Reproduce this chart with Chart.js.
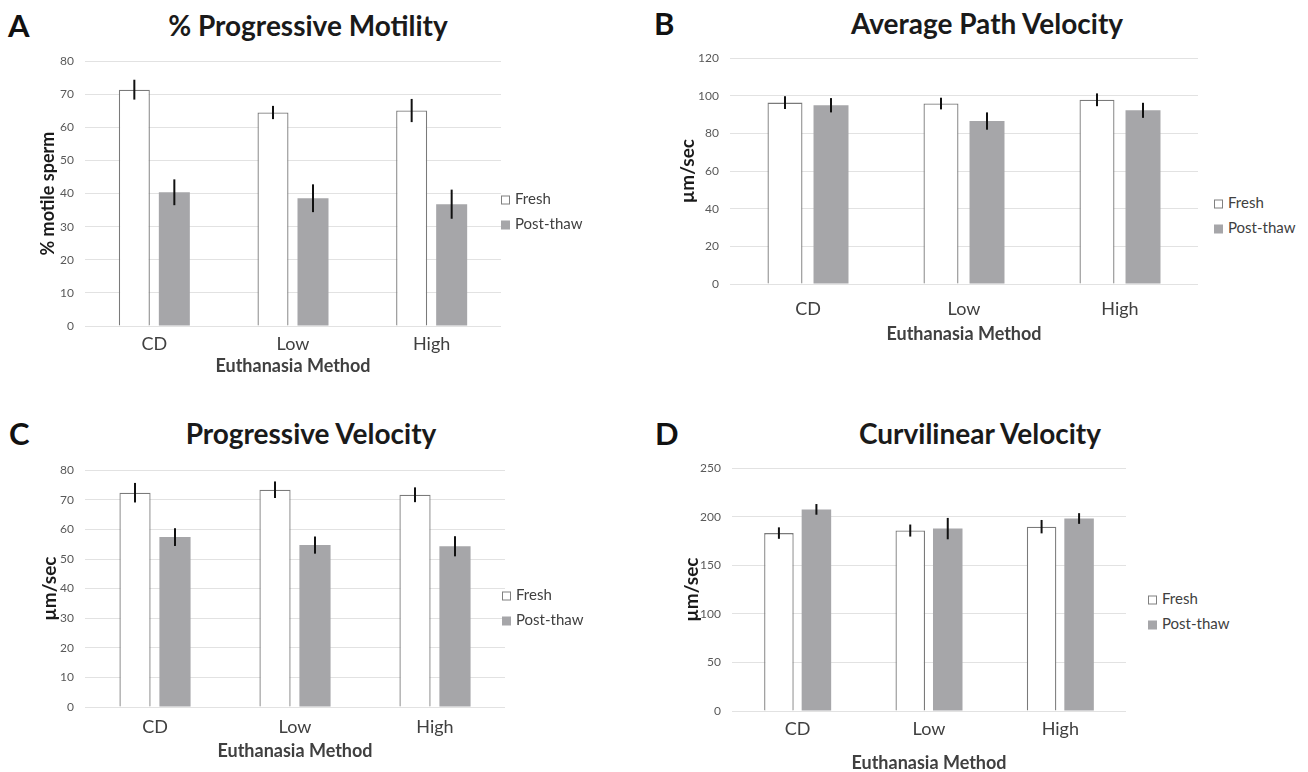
<!DOCTYPE html>
<html>
<head>
<meta charset="utf-8">
<script src="https://cdn.jsdelivr.net/npm/chart.js@4"></script>
<style>
  body { margin: 0; background: #fff; width: 1308px; height: 772px; position: relative; overflow: hidden; font-family: Lato, "Open Sans", sans-serif; }
  .box { position: absolute; }
  .letter { position: absolute; font-weight: bold; font-size: 31px; color: #111; line-height: 1; transform: translateY(-50%); }
  .title { position: absolute; font-weight: bold; font-size: 28px; color: #1a1a1a; line-height: 1; transform: translate(-50%, -50%); white-space: nowrap; }
  .leg { position: absolute; font-size: 15px; color: #404040; line-height: 1; }
  .leg div { position: absolute; white-space: nowrap; transform: translateY(-50%); }
  .leg span { display: inline-block; width: 9px; height: 9px; margin-right: 5px; vertical-align: -1px; box-sizing: border-box; }
</style>
</head>
<body>
<div id="root"></div>
<script>
// categories and series
const categories = ['CD', 'Low', 'High'];
const seriesNames = ['Fresh', 'Post-thaw'];

// A - % progressive motility
const motFresh = [71.4, 64.5, 65.1];
const motFreshErr = [3.0, 2.0, 3.5];
const motThaw = [40.4, 38.6, 36.8];
const motThawErr = [3.9, 4.2, 4.4];

// B - average path velocity
const vapFresh = [96.4, 95.9, 97.9];
const vapFreshErr = [3.4, 3.1, 3.4];
const vapThaw = [95.0, 86.6, 92.3];
const vapThawErr = [3.8, 4.6, 4.0];

// C - progressive velocity
const vslFresh = [72.4, 73.4, 71.7];
const vslFreshErr = [3.3, 2.8, 2.5];
const vslThaw = [57.4, 54.7, 54.3];
const vslThawErr = [3.0, 2.9, 3.4];

// D - curvilinear velocity
const vclFresh = [183.2, 185.8, 189.8];
const vclFreshErr = [5.9, 6.2, 6.9];
const vclThaw = [207.6, 187.8, 198.2];
const vclThawErr = [5.5, 11.0, 5.5];

const FONT = 'Lato, "Open Sans", sans-serif';
Chart.defaults.font.family = FONT;
const X_TITLE_SIZE = 18;

// error bars, drawn from the bar elements and the y scale
const errorBars = {
  id: 'errorBars',
  afterDatasetsDraw(chart) {
    const ctx = chart.ctx;
    const y = chart.scales.y;
    chart.data.datasets.forEach((ds, i) => {
      const meta = chart.getDatasetMeta(i);
      meta.data.forEach((bar, j) => {
        const v = ds.data[j], e = ds.errors[j];
        ctx.save();
        ctx.strokeStyle = '#111';
        ctx.lineWidth = 2;
        ctx.beginPath();
        ctx.moveTo(bar.x, y.getPixelForValue(v + e));
        ctx.lineTo(bar.x, y.getPixelForValue(v - e));
        ctx.stroke();
        ctx.restore();
      });
    });
  }
};

const panels = [
  { letter: 'A', title: '% Progressive Motility', yTitle: '% motile sperm', ySize: 18,
    fresh: motFresh, freshErr: motFreshErr, thaw: motThaw, thawErr: motThawErr,
    max: 80, step: 10, area: [85, 55, 501, 326], yTitleX: 48, xTitleY: 366, xPad: 7,
    cat: 0.577, bar: 0.775, letterPos: [8, 25], titlePos: [308, 25], legPos: [501, 198] },
  { letter: 'B', title: 'Average Path Velocity', yTitle: 'µm/sec', ySize: 19,
    fresh: vapFresh, freshErr: vapFreshErr, thaw: vapThaw, thawErr: vapThawErr,
    max: 120, step: 20, area: [730, 52, 1198, 284], yTitleX: 687, xTitleY: 334, xPad: 14,
    cat: 0.59, bar: 0.76, letterPos: [654, 23], titlePos: [987, 23], legPos: [1214, 202] },
  { letter: 'C', title: 'Progressive Velocity', yTitle: 'µm/sec', ySize: 19,
    fresh: vslFresh, freshErr: vslFreshErr, thaw: vslThaw, thawErr: vslThawErr,
    max: 80, step: 10, area: [85, 464, 505, 707], yTitleX: 49, xTitleY: 751, xPad: 9,
    cat: 0.571, bar: 0.78, letterPos: [9, 433], titlePos: [311, 433], legPos: [502, 594] },
  { letter: 'D', title: 'Curvilinear Velocity', yTitle: 'µm/sec', ySize: 19,
    fresh: vclFresh, freshErr: vclFreshErr, thaw: vclThaw, thawErr: vclThawErr,
    max: 250, step: 50, area: [732, 462, 1126, 711], yTitleX: 691, xTitleY: 763, xPad: 7,
    cat: 0.571, bar: 0.787, letterPos: [655, 433], titlePos: [980, 433], legPos: [1148, 598] }
];

const root = document.getElementById('root');

panels.forEach(p => {
  const [l, t, r, b] = p.area;
  const yLH = p.ySize * 1.2, xLH = X_TITLE_SIZE * 1.2;
  const cl = Math.round(p.yTitleX - yLH / 2);
  const ct = t - 12;
  const cr = r + 2;
  const cb = Math.round(p.xTitleY + xLH / 2);

  const wrap = document.createElement('div');
  wrap.className = 'box';
  wrap.style.left = cl + 'px';
  wrap.style.top = ct + 'px';
  const canvas = document.createElement('canvas');
  canvas.width = cr - cl;
  canvas.height = cb - ct;
  wrap.appendChild(canvas);
  root.appendChild(wrap);

  const letter = document.createElement('div');
  letter.className = 'letter';
  letter.textContent = p.letter;
  letter.style.left = p.letterPos[0] + 'px';
  letter.style.top = p.letterPos[1] + 'px';
  root.appendChild(letter);

  const title = document.createElement('div');
  title.className = 'title';
  title.textContent = p.title;
  title.style.left = p.titlePos[0] + 'px';
  title.style.top = p.titlePos[1] + 'px';
  root.appendChild(title);

  const leg = document.createElement('div');
  leg.className = 'leg';
  leg.style.left = p.legPos[0] + 'px';
  leg.style.top = p.legPos[1] + 'px';
  seriesNames.forEach((name, i) => {
    const row = document.createElement('div');
    row.style.top = (i * 25) + 'px';
    const sw = document.createElement('span');
    sw.style.background = i === 0 ? '#fff' : '#a6a6a9';
    sw.style.border = i === 0 ? '1px solid #808080' : 'none';
    row.appendChild(sw);
    row.appendChild(document.createTextNode(name));
    leg.appendChild(row);
  });
  root.appendChild(leg);

  new Chart(canvas, {
    type: 'bar',
    data: {
      labels: categories,
      datasets: [
        { label: seriesNames[0], data: p.fresh, errors: p.freshErr,
          backgroundColor: '#ffffff', borderColor: '#7a7a7a', borderWidth: 1.3,
          categoryPercentage: p.cat, barPercentage: p.bar },
        { label: seriesNames[1], data: p.thaw, errors: p.thawErr,
          backgroundColor: '#a6a6a9', borderWidth: 0,
          categoryPercentage: p.cat, barPercentage: p.bar }
      ]
    },
    options: {
      responsive: false,
      animation: false,
      layout: { padding: { top: 12, right: 2, left: 0, bottom: 0 } },
      plugins: { legend: { display: false }, tooltip: { enabled: false } },
      scales: {
        x: {
          grid: { display: false, drawTicks: false },
          border: { display: false },
          ticks: { color: '#404040', font: { size: 18 }, padding: p.xPad },
          title: { display: true, text: 'Euthanasia Method', color: '#404040',
                   font: { size: X_TITLE_SIZE, weight: 'bold' }, padding: 0 },
          afterFit: s => { s.height = cb - b; }
        },
        y: {
          min: 0, max: p.max,
          grid: { color: '#e2e2e2', lineWidth: 1, drawTicks: false },
          border: { display: false },
          ticks: { stepSize: p.step, color: '#595959', font: { size: 12 }, padding: 11 },
          title: { display: true, text: p.yTitle, color: '#1a1a1a',
                   font: { size: p.ySize, weight: 'bold' }, padding: 0 },
          afterFit: s => { s.width = l - cl; }
        }
      }
    },
    plugins: [errorBars]
  });
});
</script>
</body>
</html>
